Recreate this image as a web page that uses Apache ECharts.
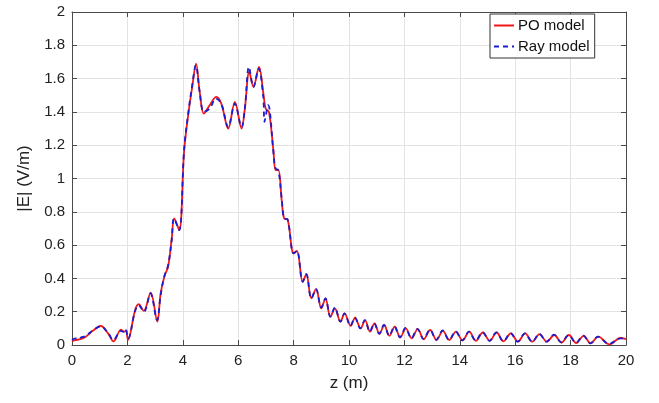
<!DOCTYPE html>
<html>
<head>
<meta charset="utf-8">
<script src="https://cdn.jsdelivr.net/npm/echarts@6/dist/echarts.min.js"></script>
<style>
html,body{margin:0;padding:0;background:#fff;}
#chart{width:659px;height:403px;}
</style>
</head>
<body>
<div id="chart"></div>
<script>
// ---- Data ----
const xTicks = [0, 2, 4, 6, 8, 10, 12, 14, 16, 18, 20];
const yTicks = [0, 0.2, 0.4, 0.6, 0.8, 1, 1.2, 1.4, 1.6, 1.8, 2];

const zPO = [0, 0.15, 0.3, 0.5, 0.75, 1.04, 1.3, 1.5, 1.77, 1.88, 1.95, 2.02,
  2.28, 2.41, 2.59, 2.84, 3.08, 3.2, 3.35, 3.47, 3.6, 3.69, 3.87, 4.05, 4.21, 4.34, 4.48,
  4.61, 4.76, 4.97, 5.21, 5.39, 5.64, 5.88, 6.12, 6.24, 6.4, 6.55, 6.75, 6.91, 6.99, 7.11,
  7.27, 7.35, 7.45, 7.57, 7.66, 7.78, 8.0, 8.12, 8.33, 8.46, 8.64, 8.81, 9.0, 9.15, 9.33,
  9.49, 9.69, 9.84, 10.06, 10.22, 10.42, 10.58, 10.76, 10.92, 11.1, 11.27, 11.46, 11.65,
  11.85, 12.05, 12.26, 12.48, 12.7, 12.93, 13.16, 13.39, 13.62, 13.86, 14.1, 14.34, 14.58,
  14.83, 15.08, 15.33, 15.58, 15.84, 16.1, 16.36, 16.62, 16.88, 17.14, 17.41, 17.67, 17.94,
  18.2, 18.47, 18.72, 19.0, 19.4, 19.8, 20];
const ePO = [0.025, 0.03, 0.035, 0.05, 0.085, 0.114, 0.07, 0.022, 0.092, 0.08, 0.088, 0.03,
  0.21, 0.245, 0.205, 0.315, 0.14, 0.31, 0.42, 0.47, 0.64, 0.76, 0.69, 1.17, 1.4, 1.55, 1.69,
  1.52, 1.39, 1.44, 1.49, 1.45, 1.3, 1.46, 1.3, 1.42, 1.64, 1.55, 1.67, 1.51, 1.42, 1.4,
  1.17, 1.05, 1.05, 0.87, 0.76, 0.755, 0.55, 0.565, 0.38, 0.425, 0.28, 0.335, 0.22, 0.28, 0.17,
  0.22, 0.14, 0.19, 0.115, 0.165, 0.1, 0.148, 0.08, 0.13, 0.066, 0.12, 0.055, 0.11,
  0.045, 0.1, 0.04, 0.095, 0.035, 0.09, 0.03, 0.085, 0.03, 0.08, 0.028, 0.08, 0.025,
  0.075, 0.025, 0.075, 0.022, 0.07, 0.02, 0.07, 0.02, 0.065, 0.02, 0.06, 0.015, 0.06,
  0.012, 0.055, 0.01, 0.05, 0.004, 0.042, 0.035];

const zRay = [0, 0.12, 0.22, 0.32, 0.5, 0.75, 1.04, 1.3, 1.5, 1.75, 1.85, 1.93, 2.03,
  2.27, 2.4, 2.6, 2.83, 3.07, 3.2, 3.33, 3.47, 3.6, 3.68, 3.87, 4.05, 4.21, 4.34, 4.47,
  4.61, 4.76, 4.97, 5.2, 5.39, 5.64, 5.88, 6.12, 6.24, 6.39, 6.55, 6.74, 6.9, 6.95, 7.0, 7.08, 7.14,
  7.27, 7.35, 7.45, 7.57, 7.66, 7.78, 8.0, 8.12, 8.33, 8.46, 8.64, 8.81, 9.0, 9.15, 9.33,
  9.49, 9.69, 9.84, 10.05, 10.21, 10.41, 10.57, 10.75, 10.91, 11.09, 11.26, 11.45, 11.64,
  11.84, 12.04, 12.25, 12.47, 12.69, 12.92, 13.15, 13.38, 13.61, 13.85, 14.09, 14.33, 14.57,
  14.82, 15.07, 15.32, 15.57, 15.83, 16.09, 16.35, 16.61, 16.87, 17.13, 17.4, 17.66, 17.93,
  18.19, 18.46, 18.71, 18.99, 19.38, 19.8, 20];
const eRay = [0.03, 0.04, 0.035, 0.045, 0.055, 0.088, 0.113, 0.072, 0.03, 0.085, 0.08, 0.098, 0.04,
  0.2, 0.24, 0.2, 0.31, 0.15, 0.3, 0.41, 0.48, 0.63, 0.76, 0.69, 1.18, 1.41, 1.56, 1.68,
  1.52, 1.4, 1.42, 1.48, 1.45, 1.31, 1.45, 1.31, 1.42, 1.67, 1.55, 1.66, 1.5, 1.34, 1.38, 1.44, 1.41,
  1.16, 1.06, 1.05, 0.88, 0.76, 0.755, 0.55, 0.565, 0.38, 0.425, 0.28, 0.335, 0.225, 0.28, 0.17,
  0.225, 0.14, 0.19, 0.115, 0.165, 0.1, 0.15, 0.08, 0.13, 0.068, 0.12, 0.056, 0.112,
  0.046, 0.102, 0.041, 0.097, 0.036, 0.092, 0.031, 0.087, 0.03, 0.082, 0.028, 0.08, 0.026,
  0.077, 0.025, 0.076, 0.022, 0.072, 0.02, 0.07, 0.02, 0.066, 0.02, 0.062, 0.016, 0.06,
  0.013, 0.056, 0.01, 0.05, 0.006, 0.04, 0.038];

const seriesNames = ['PO model', 'Ray model'];

// ---- Build chart ----
const pairs = (xs, ys) => xs.map((x, i) => [x, ys[i]]);
const chart = echarts.init(document.getElementById('chart'), null, {renderer: 'canvas'});
const axisColor = '#4a4a4a';
const gridColor = '#e3e3e3';
const font = 'Liberation Sans, Arial, Helvetica, sans-serif';
const fmt = v => String(+v.toFixed(1));

chart.setOption({
  animation: false,
  backgroundColor: '#fff',
  grid: {left: 72, right: 33, top: 12, bottom: 58, containLabel: false},
  legend: {
    orient: 'vertical',
    left: 490, top: 14,
    data: seriesNames,
    backgroundColor: '#fff',
    borderColor: '#333',
    borderWidth: 1,
    padding: [4, 5, 4, 3],
    itemGap: 6,
    itemWidth: 20,
    itemHeight: 12,
    itemStyle: {opacity: 0},
    textStyle: {fontFamily: font, fontSize: 15, color: '#111', padding: [0, 0, 0, -1]}
  },
  xAxis: [{
    type: 'value', min: 0, max: 20, interval: 2,
    name: 'z (m)', nameLocation: 'middle', nameGap: 30,
    nameTextStyle: {fontFamily: font, fontSize: 17, color: '#222'},
    axisLine: {show: true, onZero: false, lineStyle: {color: axisColor, width: 1}},
    axisTick: {show: true, inside: true, length: 5, lineStyle: {color: axisColor}},
    axisLabel: {fontFamily: font, fontSize: 15, color: '#222', margin: 8, formatter: fmt},
    splitLine: {show: true, lineStyle: {color: gridColor, width: 1}}
  }, {
    type: 'value', min: 0, max: 20, interval: 2, position: 'top',
    axisLine: {show: true, onZero: false, lineStyle: {color: axisColor, width: 1}},
    axisTick: {show: true, inside: true, length: 5, lineStyle: {color: axisColor}},
    axisLabel: {show: false}, splitLine: {show: false}
  }],
  yAxis: [{
    type: 'value', min: 0, max: 2, interval: 0.2,
    name: '|E| (V/m)', nameLocation: 'middle', nameGap: 37, nameRotate: 90,
    nameTextStyle: {fontFamily: font, fontSize: 17, color: '#222'},
    axisLine: {show: true, onZero: false, lineStyle: {color: axisColor, width: 1}},
    axisTick: {show: true, inside: true, length: 5, lineStyle: {color: axisColor}},
    axisLabel: {fontFamily: font, fontSize: 15, color: '#222', margin: 7, formatter: fmt},
    splitLine: {show: true, lineStyle: {color: gridColor, width: 1}}
  }, {
    type: 'value', min: 0, max: 2, interval: 0.2, position: 'right',
    axisLine: {show: true, onZero: false, lineStyle: {color: axisColor, width: 1}},
    axisTick: {show: true, inside: true, length: 5, lineStyle: {color: axisColor}},
    axisLabel: {show: false}, splitLine: {show: false}
  }],
  series: [{
    name: seriesNames[0], type: 'line', xAxisIndex: 0, yAxisIndex: 0,
    data: pairs(zPO, ePO), smooth: 0.35, symbol: 'none',
    lineStyle: {color: '#f01818', width: 1.8},
    itemStyle: {color: '#f01818'}
  }, {
    name: seriesNames[1], type: 'line', xAxisIndex: 0, yAxisIndex: 0,
    data: pairs(zRay, eRay), smooth: 0.35, symbol: 'none',
    lineStyle: {color: '#1c1cd0', width: 1.8, type: [5, 4]},
    itemStyle: {color: '#1c1cd0'}
  }]
});
</script>
</body>
</html>
